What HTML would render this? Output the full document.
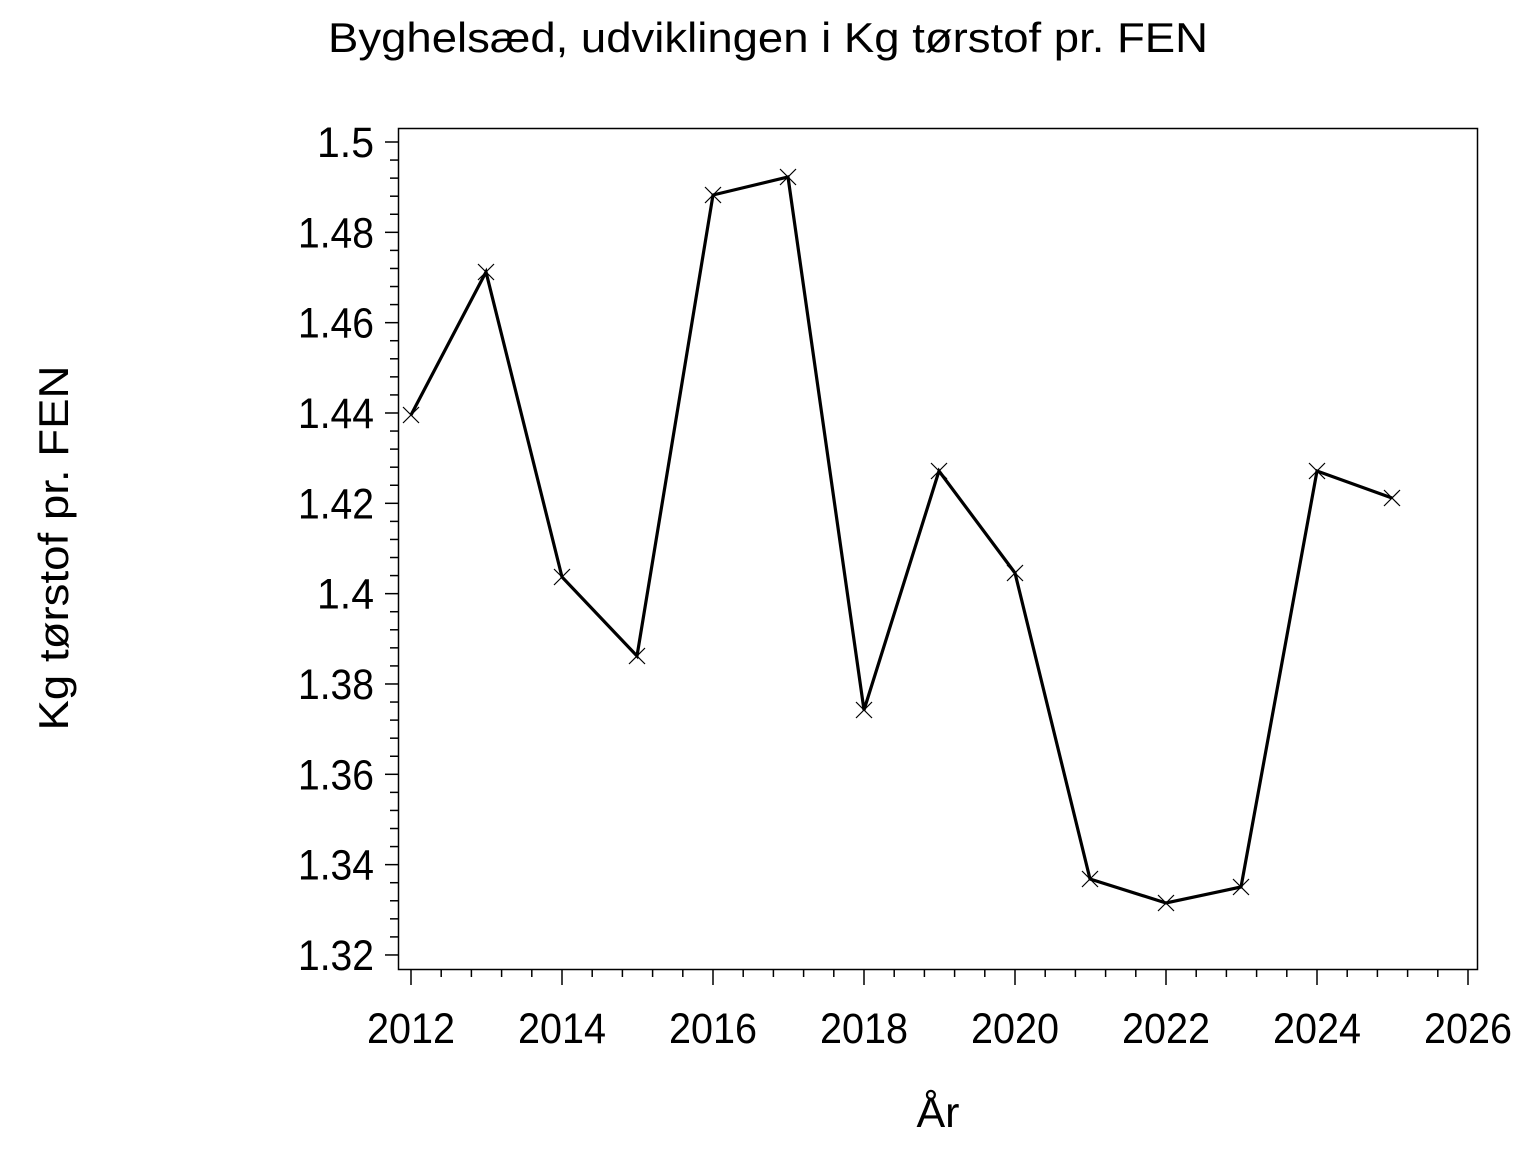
<!DOCTYPE html>
<html><head><style>body{margin:0;background:#fff}</style></head><body>
<svg width="1536" height="1152" xmlns="http://www.w3.org/2000/svg" font-family="Liberation Sans, Arial, sans-serif">
<rect width="1536" height="1152" fill="#fff"/>
<text x="328" y="52" font-size="42" textLength="880" lengthAdjust="spacingAndGlyphs">Byghelsæd,  udviklingen  i  Kg  tørstof  pr.  FEN</text>
<rect x="398.5" y="128.5" width="1079" height="841" fill="none" stroke="#000" stroke-width="1.5"/>
<g stroke="#000" stroke-width="1.5" id="ticks"></g>
<g font-size="43" text-anchor="end" id="ylab"></g>
<g font-size="43" text-anchor="middle" id="xlab"></g>
<text x="938" y="1127" font-size="43" text-anchor="middle">År</text>
<text transform="translate(68,548) rotate(-90)" font-size="42" text-anchor="middle" textLength="365" lengthAdjust="spacingAndGlyphs">Kg  tørstof  pr.  FEN</text>
<polyline fill="none" stroke="#000" stroke-width="3.2" points="411,415 486,272 562,577 637,656 713,195 788,177 864,710 939,471 1015,573 1090,879 1166,903 1241,887 1317,471 1392,498"/>
<g stroke="#000" stroke-width="1.2" id="marks"></g>
</svg>
<script>
var ns="http://www.w3.org/2000/svg";
function el(p,t,a,txt){var e=document.createElementNS(ns,t);for(var k in a)e.setAttribute(k,a[k]);if(txt)e.textContent=txt;document.getElementById(p).appendChild(e);}
var y0=142,dy=90.33;
for(var i=0;i<=45;i++){var y=y0+i*dy/5;if(y>969)break;var maj=i%5==0;el("ticks","line",{x1:maj?385:390,x2:398,y1:y,y2:y});}
var labs=["1.5","1.48","1.46","1.44","1.42","1.4","1.38","1.36","1.34","1.32"];
labs.forEach(function(l,i){el("ylab","text",{x:374,y:y0+i*dy+15,textLength:(l.length==3?57:76),lengthAdjust:"spacingAndGlyphs"},l);});
var x0=411,dx=75.5;
for(var i=0;i<=35;i++){var x=x0+i*dx*0.4;var maj=i%5==0;el("ticks","line",{x1:x,x2:x,y1:970,y2:maj?985:977});}
for(var j=0;j<8;j++)el("xlab","text",{x:x0+j*2*dx,y:1043,textLength:88,lengthAdjust:"spacingAndGlyphs"},String(2012+2*j));
var pts=[[411,415],[486,272],[562,577],[637,656],[713,195],[788,177],[864,710],[939,471],[1015,573],[1090,879],[1166,903],[1241,887],[1317,471],[1392,498]];
pts.forEach(function(p){var s=8;el("marks","line",{x1:p[0]-s,y1:p[1]-s,x2:p[0]+s,y2:p[1]+s});el("marks","line",{x1:p[0]-s,y1:p[1]+s,x2:p[0]+s,y2:p[1]-s});});
</script>
</body></html>
